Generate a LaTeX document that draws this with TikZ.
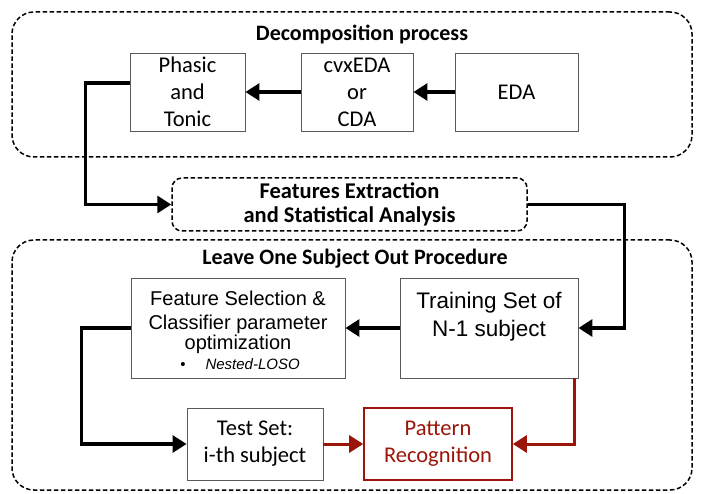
\documentclass[tikz,border=0pt]{standalone}
\usepackage{fontspec}
\setmainfont{Carlito}
\newfontfamily\arialf{Liberation Sans}
\usetikzlibrary{arrows.meta,calc}
\definecolor{dred}{RGB}{155,22,10}
\definecolor{boxgray}{RGB}{90,90,90}
\tikzset{
  frame/.style={draw=black, line width=1.5pt, dash pattern=on 4.5pt off 2.5pt, rounded corners=22pt, inner sep=0pt},
  stepbox/.style={draw=boxgray, line width=0.9pt, inner sep=0pt, align=center, font=\fontsize{22.5}{27}\selectfont},
  title/.style={font=\bfseries\fontsize{22}{25}\selectfont, inner sep=0pt, align=center},
  conn/.style={line width=3.2pt, -{Triangle[length=14pt,width=17pt]}},
  rconn/.style={line width=3pt, draw=dred, -{Triangle[length=14pt,width=17pt]}, dred},
}
\begin{document}
\begin{tikzpicture}[x=1pt,y=-1pt]
\useasboundingbox (0,0) rectangle (701,494);
% frames
\node[frame, minimum width=680pt, minimum height=145pt] (topframe) at (352,84.5) {};
\node[frame, minimum width=680pt, minimum height=250pt] (botframe) at (352,365) {};
\node[title] (t1) at (362,34) {Decomposition process};
\node[title] (t2) at (355,259) {Leave One Subject Out Procedure};
% top boxes
\node[stepbox, minimum width=115pt, minimum height=78pt] (phasic) at (187.5,92) {Phasic\\and\\Tonic};
\node[stepbox, minimum width=112pt, minimum height=78pt] (cvx) at (357,92) {cvxEDA\\or\\CDA};
\node[stepbox, minimum width=123pt, minimum height=78pt] (eda) at (516.5,92) {EDA};
% features
\node[frame, rounded corners=10pt, minimum width=355pt, minimum height=53pt, align=center,
      font=\bfseries\fontsize{22.5}{24.5}\selectfont] (feat) at (349.5,204.5) {Features Extraction\\and Statistical Analysis};
% bottom boxes
\node[stepbox, minimum width=214pt, minimum height=100pt] (fs) at (238,328) {};
\node[align=center, inner sep=0pt, font=\arialf\fontsize{20}{24}\selectfont] (fstext) at (238,322)
  {Feature Selection \&\\Classifier parameter\\[-4pt]optimization};
\node[inner sep=0pt, font=\arialf\fontsize{15}{18}\selectfont] (fsbullet) at (240,364) {\textbullet\hspace{20pt}\itshape Nested-LOSO};
\node[stepbox, minimum width=178pt, minimum height=100pt] (train) at (489,328) {};
\node[align=center, inner sep=0pt, font=\arialf\fontsize{22.5}{28}\selectfont] (traintext) at (489,317) {Training Set of\\N-1 subject};
\node[stepbox, minimum width=136pt, minimum height=72pt] (test) at (255,444) {Test Set:\\i-th subject};
\node[stepbox, draw=dred, line width=1.6pt, text=dred, minimum width=148pt, minimum height=72pt] (pat) at (438,444) {Pattern\\Recognition};
% connectors
\draw[conn] (eda.west) -- (cvx.east);
\draw[conn] (cvx.west) -- (phasic.east);
\draw[conn] ([yshift=9pt]phasic.west) -- ++(-44,0) |- (feat.west);
\draw[conn] (feat.east) -- ++(97,0) |- (train.east);
\draw[conn] (train.west) -- (fs.east);
\draw[conn] (fs.west) -- ++(-49,0) |- (test.west);
\draw[rconn] (test.east) -- (pat.west);
\draw[rconn] ([xshift=-4pt]train.south east) |- (pat.east);
\end{tikzpicture}
\end{document}
